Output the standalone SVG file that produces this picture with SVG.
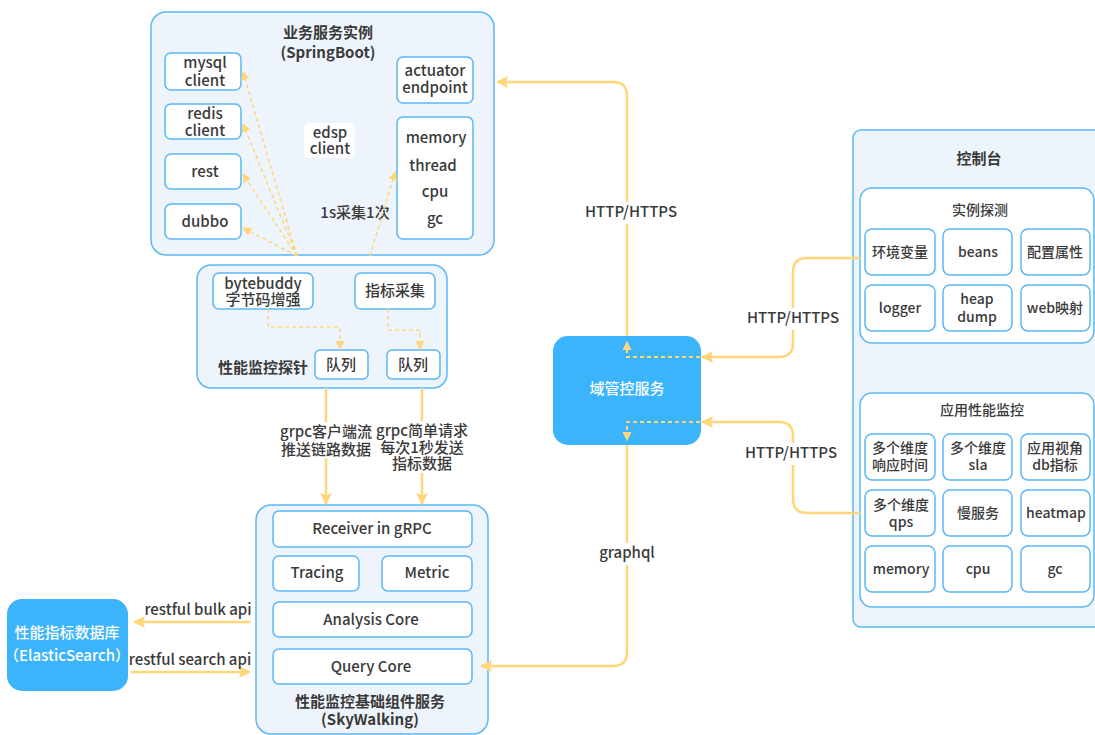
<svg xmlns="http://www.w3.org/2000/svg" width="1095" height="735" viewBox="0 0 1095 735">
<defs>
<style>
text{font-family:"Noto Sans CJK SC","Noto Sans",sans-serif;font-size:15px;font-weight:500;fill:#3a3a3a;text-anchor:middle;}
.b{font-weight:bold;font-size:15px;}
.s{font-size:14px;}
.w{fill:#ffffff;}
.cont{fill:#eef4fb;stroke:#5bb8f5;stroke-width:1.5;}
.box{fill:#ffffff;stroke:#5bb8f5;stroke-width:1.5;}
.solid{fill:#3cb4fc;stroke:none;}
.ln{fill:none;stroke:#ffd77a;stroke-width:2.5;}
.dl{fill:none;stroke:#ffd77a;stroke-width:1.5;stroke-dasharray:4 3;}
.dw{fill:none;stroke:#ffd77a;stroke-width:2;stroke-dasharray:4 3;}
.lb{fill:#ffffff;}
</style>
<marker id="ah" markerWidth="14" markerHeight="14" refX="11" refY="6" orient="auto" markerUnits="userSpaceOnUse"><path d="M0,0 L12,6 L0,12 L2,6 Z" fill="#ffd77a"/></marker>
<marker id="as" markerWidth="10" markerHeight="10" refX="8" refY="4.5" orient="auto" markerUnits="userSpaceOnUse"><path d="M0,0 L9,4.5 L0,9 Z" fill="#ffd77a"/></marker>
</defs>
<rect width="1095" height="735" fill="#ffffff"/>

<g id="app">
<rect class="cont" x="151" y="12" width="343" height="243" rx="15"/>
<text class="b" x="328" y="38">业务服务实例</text>
<text class="b" x="328" y="58">(SpringBoot)</text>
<rect class="box" x="165" y="53" width="76" height="37" rx="6"/>
<text x="205" y="68">mysql</text><text x="205" y="86">client</text>
<rect class="box" x="165" y="104" width="76" height="35" rx="6"/>
<text x="205" y="119">redis</text><text x="205" y="136">client</text>
<rect class="box" x="165" y="154" width="76" height="35" rx="6"/>
<text x="205" y="177">rest</text>
<rect class="box" x="165" y="204" width="76" height="35" rx="6"/>
<text x="205" y="227">dubbo</text>
<rect class="box" x="397" y="57" width="76" height="46" rx="6"/>
<text x="435" y="76">actuator</text><text x="435" y="93">endpoint</text>
<rect x="304" y="123" width="51" height="35" rx="5" fill="#ffffff"/>
<text x="330" y="138">edsp</text><text x="330" y="154">client</text>
<rect class="box" x="397" y="117" width="76" height="122" rx="6"/>
<text x="436" y="143">memory</text>
<text x="433" y="171">thread</text>
<text x="435" y="197">cpu</text>
<text x="435" y="224">gc</text>
<text x="355" y="218">1s采集1次</text>
</g>

<g id="probe">
<rect class="cont" x="197" y="265" width="250" height="123" rx="14"/>
<rect class="box" x="213" y="273" width="100" height="36" rx="6"/>
<text x="263" y="289">bytebuddy</text><text x="263" y="305">字节码增强</text>
<rect class="box" x="355" y="273" width="80" height="36" rx="6"/>
<text x="395" y="296">指标采集</text>
<rect class="box" x="315" y="350" width="53" height="29" rx="5"/>
<text x="341" y="370">队列</text>
<rect class="box" x="387" y="350" width="53" height="29" rx="5"/>
<text x="413" y="370">队列</text>
<text class="b" x="263" y="373">性能监控探针</text>
</g>

<g id="skywalking">
<rect class="cont" x="256" y="505" width="232" height="229" rx="15"/>
<rect class="box" x="273" y="511" width="199" height="36" rx="6"/>
<text x="372" y="534">Receiver in gRPC</text>
<rect class="box" x="273" y="556" width="86" height="35" rx="6"/>
<text x="317" y="578">Tracing</text>
<rect class="box" x="382" y="556" width="90" height="35" rx="6"/>
<text x="427" y="578">Metric</text>
<rect class="box" x="273" y="602" width="199" height="35" rx="6"/>
<text x="371" y="625">Analysis Core</text>
<rect class="box" x="273" y="649" width="199" height="35" rx="6"/>
<text x="371" y="672">Query Core</text>
<text class="b" x="370" y="707">性能监控基础组件服务</text>
<text class="b" x="370" y="725">(SkyWalking)</text>
</g>

<g id="es">
<rect class="solid" x="7" y="599" width="121" height="92" rx="15"/>
<text class="w" x="67" y="638">性能指标数据库</text>
<text class="w" x="67" y="661">（ElasticSearch）</text>
</g>

<g id="domain">
<rect class="solid" x="553" y="336" width="148" height="109" rx="15"/>
<text class="w" x="627" y="394">域管控服务</text>
</g>

<g id="console">
<rect class="cont" x="853" y="130" width="252" height="497" rx="8"/>
<text class="b" x="979" y="164">控制台</text>
<rect class="box" x="860" y="188" width="234" height="155" rx="12"/>
<text class="s" x="980" y="215">实例探测</text>
<rect class="box" x="865" y="229" width="70" height="46" rx="7"/>
<text class="s" x="900" y="257">环境变量</text>
<rect class="box" x="943" y="229" width="69" height="46" rx="7"/>
<text class="s" x="978" y="257">beans</text>
<rect class="box" x="1021" y="229" width="69" height="46" rx="7"/>
<text class="s" x="1055" y="257">配置属性</text>
<rect class="box" x="865" y="285" width="70" height="46" rx="7"/>
<text class="s" x="900" y="313">logger</text>
<rect class="box" x="943" y="285" width="69" height="46" rx="7"/>
<text class="s" x="977" y="304">heap</text><text class="s" x="977" y="322">dump</text>
<rect class="box" x="1021" y="285" width="69" height="46" rx="7"/>
<text class="s" x="1055" y="313">web映射</text>

<rect class="box" x="860" y="393" width="234" height="214" rx="12"/>
<text class="s" x="982" y="415">应用性能监控</text>
<rect class="box" x="865" y="434" width="70" height="46" rx="7"/>
<text class="s" x="900" y="453">多个维度</text><text class="s" x="900" y="470">响应时间</text>
<rect class="box" x="943" y="434" width="69" height="46" rx="7"/>
<text class="s" x="978" y="453">多个维度</text><text class="s" x="978" y="470">sla</text>
<rect class="box" x="1021" y="434" width="69" height="46" rx="7"/>
<text class="s" x="1055" y="453">应用视角</text><text class="s" x="1055" y="470">db指标</text>
<rect class="box" x="865" y="490" width="70" height="46" rx="7"/>
<text class="s" x="901" y="510">多个维度</text><text class="s" x="901" y="527">qps</text>
<rect class="box" x="943" y="490" width="69" height="46" rx="7"/>
<text class="s" x="978" y="518">慢服务</text>
<rect class="box" x="1021" y="490" width="69" height="46" rx="7"/>
<text class="s" x="1056" y="518">heatmap</text>
<rect class="box" x="865" y="546" width="70" height="46" rx="7"/>
<text class="s" x="901" y="574">memory</text>
<rect class="box" x="943" y="546" width="69" height="46" rx="7"/>
<text class="s" x="978" y="574">cpu</text>
<rect class="box" x="1021" y="546" width="69" height="46" rx="7"/>
<text class="s" x="1055" y="574">gc</text>
</g>

<g id="connectors">
<path class="dl" d="M297,256 L243,72" marker-end="url(#as)"/>
<path class="dl" d="M297,256 L243,124" marker-end="url(#as)"/>
<path class="dl" d="M297,256 L243,174" marker-end="url(#as)"/>
<path class="dl" d="M297,256 L243,228" marker-end="url(#as)"/>
<path class="dl" d="M370,256 L395,172" marker-end="url(#as)"/>
<path class="dl" d="M268,309 L268,327 L340,327 L340,349" marker-end="url(#as)"/>
<path class="dl" d="M388,309 L388,330 L420,330 L420,349" marker-end="url(#as)"/>

<path class="ln" d="M326,388 L326,504" marker-end="url(#ah)"/>
<path class="ln" d="M422,388 L422,504" marker-end="url(#ah)"/>
<rect class="lb" x="280" y="422" width="92" height="36"/>
<text x="326" y="437">grpc客户端流</text>
<text x="326" y="455">推送链路数据</text>
<rect class="lb" x="377" y="421" width="91" height="52"/>
<text x="422" y="436">grpc简单请求</text>
<text x="422" y="453">每次1秒发送</text>
<text x="422" y="469">指标数据</text>

<path class="ln" d="M251,622 L134,622" marker-end="url(#ah)"/>
<path class="ln" d="M131,672 L250,672" marker-end="url(#ah)"/>
<text x="198" y="615">restful bulk api</text>
<text x="190" y="665">restful search api</text>

<path class="ln" d="M627,336 L627,96 Q627,82 613,82 L497,82" marker-end="url(#ah)"/>
<rect class="lb" x="584" y="202" width="94" height="22"/>
<text x="631" y="217">HTTP/HTTPS</text>

<path class="ln" d="M860,258 L807,258 Q793,258 793,272 L793,343 Q793,357 779,357 L702,357" marker-end="url(#ah)"/>
<rect class="lb" x="746" y="308" width="94" height="22"/>
<text x="793" y="323">HTTP/HTTPS</text>

<path class="ln" d="M860,513 L807,513 Q793,513 793,499 L793,436 Q793,422 779,422 L702,422" marker-end="url(#ah)"/>
<rect class="lb" x="744" y="443" width="94" height="22"/>
<text x="791" y="458">HTTP/HTTPS</text>

<path class="dw" d="M700,357 L627,357 L627,342" marker-end="url(#as)"/>
<path class="dw" d="M700,422 L627,422 L627,440" marker-end="url(#as)"/>

<path class="ln" d="M627,445 L627,652 Q627,666 613,666 L481,666" marker-end="url(#ah)"/>
<rect class="lb" x="597" y="543" width="60" height="22"/>
<text x="627" y="558">graphql</text>
</g>
</svg>
